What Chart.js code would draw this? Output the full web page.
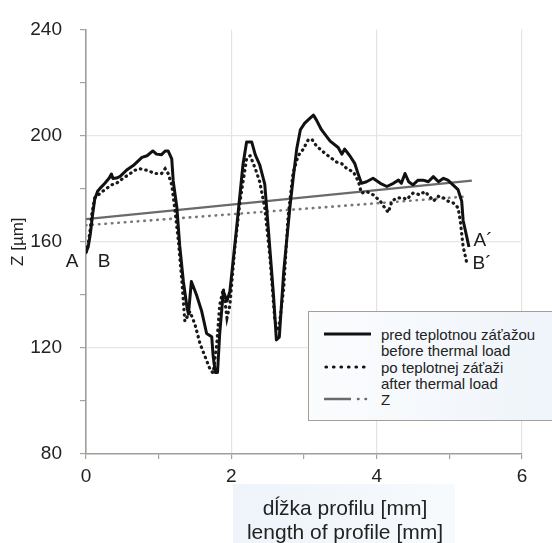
<!DOCTYPE html>
<html>
<head>
<meta charset="utf-8">
<script src="https://cdn.jsdelivr.net/npm/chart.js@4.4.0/dist/chart.umd.min.js"></script>
<style>
    body { margin: 0; background: #fff; font-family: "Liberation Sans", Arial, sans-serif; }
    #wrap { position: relative; width: 552px; height: 543px; overflow: hidden; background: #fff; }
    #chart { position: absolute; left: 0; top: 0; }
    .lbl { position: absolute; transform: translate(-50%, -50%); line-height: 1; white-space: nowrap; color: #1c1c1c; }
    .pt { font-size: 19px; }
    #xTitleBg { position: absolute; left: 233px; top: 484px; width: 222px; height: 60px;
                background: linear-gradient(to right, #eef4fa, #f7fafd); }
    #xTitle { position: absolute; left: 345px; top: 496px; transform: translateX(-50%); text-align: center;
              font-size: 21px; line-height: 23.5px; color: #222; white-space: nowrap; }
    #legend { position: absolute; left: 308px; top: 311px; width: 260px; height: 110px; box-sizing: border-box;
              border: 1px solid #a49e99; background: linear-gradient(to right, #fbfcfe, #eef4fa); }
    #legend svg { position: absolute; left: 0; top: 0; }
    .lg { position: absolute; left: 72px; font-size: 15px; line-height: 1; color: #222; white-space: nowrap; transform: translateY(-50%); }
</style>
</head>
<body>
<div id="wrap">
    <div id="xTitleBg"></div>
    <canvas id="chart" width="552" height="543"></canvas>
    <div id="xTitle">dĺžka profilu [mm]<br>length of profile [mm]</div>

    <div class="lbl pt" style="left:72px; top:260px;">A</div>
    <div class="lbl pt" style="left:104px; top:260px;">B</div>
    <div class="lbl pt" style="left:483px; top:239px;">A´</div>
    <div class="lbl pt" style="left:482px; top:262px;">B´</div>

    <div id="legend">
        <svg width="260" height="110">
            <line x1="15" y1="22" x2="62" y2="22" stroke="#111" stroke-width="3.2"/>
            <line x1="17" y1="55" x2="62" y2="55" stroke="#111" stroke-width="3.2" stroke-dasharray="0.5 7" stroke-linecap="round"/>
            <line x1="15" y1="87" x2="42" y2="87" stroke="#6a6a6a" stroke-width="2.5"/>
            <line x1="49" y1="87" x2="58" y2="87" stroke="#6a6a6a" stroke-width="2.5" stroke-dasharray="0.5 7" stroke-linecap="round"/>
        </svg>
        <div class="lg" style="top:22px;">pred teplotnou záťažou</div>
        <div class="lg" style="top:38px;">before thermal load</div>
        <div class="lg" style="top:55px;">po teplotnej záťaži</div>
        <div class="lg" style="top:71px;">after thermal load</div>
        <div class="lg" style="top:87px;">Z</div>
    </div>
</div>

<script>
// profil pred teplotnou zatazou (x v mm, Z v um)
const beforeX = [0.00, 0.03, 0.06, 0.09, 0.12, 0.16, 0.19, 0.26, 0.32, 0.35, 0.37, 0.42, 0.47, 0.56, 0.65,
    0.77, 0.84, 0.92, 0.97, 1.04, 1.09, 1.13, 1.18, 1.20, 1.25, 1.29, 1.34, 1.39, 1.41, 1.45, 1.52, 1.59,
    1.66, 1.73, 1.75, 1.78, 1.81, 1.84, 1.89, 1.94, 1.98, 2.07, 2.16, 2.21, 2.28, 2.33, 2.39, 2.46, 2.51,
    2.58, 2.62, 2.66, 2.72, 2.76, 2.81, 2.86, 2.90, 2.95, 3.01, 3.08, 3.13, 3.17, 3.24, 3.31, 3.36, 3.47,
    3.52, 3.56, 3.63, 3.70, 3.75, 3.79, 3.86, 3.95, 4.05, 4.14, 4.23, 4.30, 4.34, 4.39, 4.44, 4.50, 4.57,
    4.64, 4.71, 4.78, 4.85, 4.92, 4.98, 5.05, 5.12, 5.17, 5.19, 5.24, 5.27];
const beforeY = [156, 158, 163, 170, 176, 179, 180, 182, 184, 185.5, 183.8, 184, 184.6, 187, 188.7,
    191.8, 192.4, 194.2, 193, 192.8, 194.2, 194.2, 191.2, 182.9, 173, 158.4, 145, 135.2, 132.7, 145, 140, 134,
    125.4, 124.2, 116.8, 110.7, 110.7, 125.4, 141.3, 137.6, 141.3, 164.5, 189, 197.6, 197.6, 192.7, 189, 181.7, 164.5,
    140, 123, 124, 148.4, 160, 174, 186, 195, 202.2, 204.7, 206.5, 207.7, 205.9, 202.2, 199.7, 197.9, 195.5,
    193, 194.9, 192.4, 189.4, 185.1, 182, 182.6, 183.9, 182, 180.8, 182, 183.2, 182, 185.7, 182.6, 181.4, 183.2,
    183.2, 182.6, 184.5, 182.6, 183.9, 183.2, 181.4, 179.6, 175.3, 168, 161.8, 158];

// profil po teplotnej zatazi
const afterX = [0.00, 0.03, 0.06, 0.08, 0.12, 0.23, 0.35, 0.42, 0.51, 0.61, 0.67, 0.74, 0.84, 0.95, 1.04,
    1.09, 1.13, 1.18, 1.22, 1.27, 1.32, 1.36, 1.43, 1.50, 1.57, 1.64, 1.71, 1.75, 1.80, 1.84, 1.89, 1.94,
    1.98, 2.05, 2.12, 2.21, 2.26, 2.33, 2.39, 2.46, 2.53, 2.60, 2.65, 2.72, 2.78, 2.85, 2.92, 2.99, 3.06,
    3.11, 3.17, 3.27, 3.36, 3.45, 3.52, 3.59, 3.68, 3.75, 3.79, 3.86, 3.95, 4.05, 4.11, 4.16, 4.21, 4.28,
    4.37, 4.41, 4.50, 4.60, 4.66, 4.73, 4.78, 4.85, 4.92, 4.98, 5.05, 5.12, 5.15, 5.17, 5.19, 5.22, 5.24];
const afterY = [156, 159, 165, 170.4, 176.5, 179, 181.4, 182, 183.9, 185.7, 186.9, 187.5, 186.9, 185.7, 185.7,
    187.5, 185.7, 181.4, 172.8, 160.6, 145, 130, 133.7, 128.8, 121.5, 116.6, 111.7, 110.5, 121.5, 136.1, 142.3, 131.3,
    136.1, 158.2, 175.3, 191.2, 192.4, 187.5, 182.6, 172.8, 154.5, 130, 126.3, 142.3, 169.2, 186, 192.4, 194.9, 198.5,
    198.5, 196.1, 193.7, 191.8, 190, 189.4, 187.5, 186.3, 182.6, 178.3, 178.9, 177.7, 175.3, 172.8, 171, 175.3, 176.5,
    176.5, 175.9, 178.3, 177.7, 178.9, 177.1, 175.3, 177.1, 176.5, 175.3, 174.7, 172.8, 168, 163, 158.2, 154.5, 152];

// linearne trendy Z
const zBeforeX = [0, 5.31];
const zBeforeY = [168.5, 183];
const zAfterX = [0, 5.22];
const zAfterY = [166.2, 177];

// osi
const xTicks = [0, 2, 4, 6];
const yTicks = [80, 120, 160, 200, 240];

function toPoints(xs, ys) {
    return xs.map((x, i) => ({ x: x, y: ys[i] }));
}

const ctx = document.getElementById('chart');

new Chart(ctx, {
    type: 'scatter',
    data: {
        datasets: [
            {
                label: 'pred teplotnou záťažou',
                data: toPoints(beforeX, beforeY),
                showLine: true,
                borderColor: '#111',
                borderWidth: 3,
                borderJoinStyle: 'round',
                pointRadius: 0,
                tension: 0
            },
            {
                label: 'po teplotnej záťaži',
                data: toPoints(afterX, afterY),
                showLine: true,
                borderColor: '#1a1a1a',
                borderWidth: 3.2,
                borderDash: [0.5, 5],
                borderCapStyle: 'round',
                pointRadius: 0,
                tension: 0
            },
            {
                label: 'Z',
                data: toPoints(zBeforeX, zBeforeY),
                showLine: true,
                borderColor: '#6a6a6a',
                borderWidth: 2.2,
                pointRadius: 0
            },
            {
                label: 'Z po',
                data: toPoints(zAfterX, zAfterY),
                showLine: true,
                borderColor: '#7d7672',
                borderWidth: 2.6,
                borderDash: [0.5, 6],
                borderCapStyle: 'round',
                pointRadius: 0
            }
        ]
    },
    options: {
        responsive: false,
        animation: false,
        layout: {
            padding: { top: 17, right: 30, left: 0, bottom: 0 }
        },
        plugins: {
            legend: { display: false },
            tooltip: { enabled: false }
        },
        scales: {
            x: {
                type: 'linear',
                min: 0,
                max: 6,
                afterFit: function(scale) { scale.height = 89; },
                ticks: {
                    stepSize: 1,
                    autoSkip: false,
                    maxRotation: 0,
                    padding: 6,
                    color: '#222',
                    font: { family: '"Liberation Sans", Arial, sans-serif', size: 19 },
                    callback: function(value) {
                        return xTicks.includes(value) ? value : '';
                    }
                },
                grid: {
                    color: function(c) {
                        const v = c.tick ? c.tick.value : null;
                        return (v !== null && v > 0 && xTicks.includes(v)) ? '#e3e3e3' : 'rgba(0,0,0,0)';
                    },
                    tickColor: '#a8a29e',
                    tickLength: 5,
                    lineWidth: 1.2
                },
                border: { color: '#a39d98', width: 1.6 }
            },
            y: {
                type: 'linear',
                min: 80,
                max: 240,
                afterFit: function(scale) { scale.width = 86; },
                title: {
                    display: true,
                    text: 'Z [µm]',
                    color: '#222',
                    padding: { top: 8 },
                    font: { family: '"Liberation Sans", Arial, sans-serif', size: 17 }
                },
                ticks: {
                    stepSize: 20,
                    autoSkip: false,
                    padding: 18,
                    color: '#222',
                    font: { family: '"Liberation Sans", Arial, sans-serif', size: 19 },
                    callback: function(value) {
                        return yTicks.includes(value) ? value : '';
                    }
                },
                grid: {
                    color: function(c) {
                        const v = c.tick ? c.tick.value : null;
                        return (v !== null && v > 80 && v < 240 && yTicks.includes(v)) ? '#e6e6e6' : 'rgba(0,0,0,0)';
                    },
                    tickColor: '#a8a29e',
                    tickLength: 6,
                    lineWidth: 1.2
                },
                border: { color: '#a39d98', width: 1.6 }
            }
        }
    }
});
</script>
</body>
</html>
